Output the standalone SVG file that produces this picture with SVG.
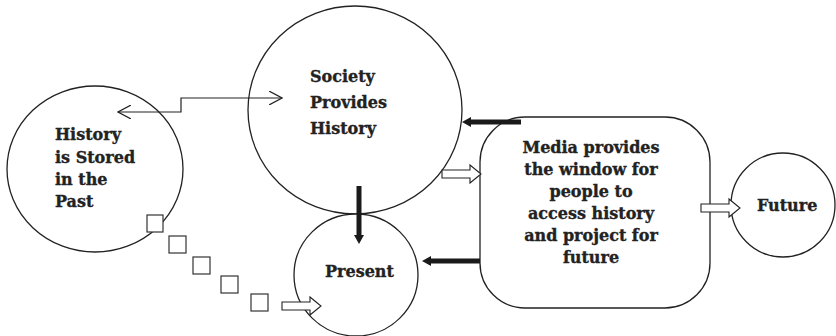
<svg xmlns="http://www.w3.org/2000/svg" width="836" height="336" viewBox="0 0 836 336">
<style>
.n{fill:#fff;stroke:#222;stroke-width:1.3}
.t{font-family:"DejaVu Serif",serif;font-weight:bold;font-size:16px;fill:#222;stroke:#222;stroke-width:0.35}
.thin{fill:none;stroke:#222;stroke-width:1.2}
.thick{stroke:#1a1a1a;stroke-width:5;fill:none}
.blk{fill:#fff;stroke:#222;stroke-width:1.1}
.sq{fill:#fff;stroke:#333;stroke-width:1.2}
</style>
<defs>
<marker id="chev" viewBox="0 0 14 14" refX="13" refY="7" markerWidth="14" markerHeight="14" markerUnits="userSpaceOnUse" orient="auto-start-reverse">
<path d="M0,0 L13,7 L0,14" fill="none" stroke="#222" stroke-width="1.2"/>
</marker>
<path id="block" d="M0,-4 H28 V-9 L39,0 L28,9 V4 H0 Z"/>
</defs>
<g id="society"><ellipse class="n" cx="355" cy="110" rx="107" ry="104"/>
<text class="t" x="310" y="82">Society</text><text class="t" x="310" y="108">Provides</text><text class="t" x="310" y="134">History</text></g>
<g id="history"><ellipse class="n" cx="95" cy="169" rx="88" ry="83"/>
<text class="t" x="55" y="140">History</text><text class="t" x="55" y="163">is Stored</text><text class="t" x="55" y="185">in the</text><text class="t" x="55" y="207">Past</text></g>
<g id="present"><ellipse class="n" cx="356" cy="275" rx="62" ry="61"/>
<text class="t" x="325" y="277">Present</text></g>
<g id="media"><rect class="n" x="480" y="117" width="230" height="191" rx="45" ry="45"/>
<text class="t" text-anchor="middle" x="591"><tspan x="591" y="153">Media provides</tspan><tspan x="591" y="175">the window for</tspan><tspan x="591" y="197">people to</tspan><tspan x="591" y="219">access history</tspan><tspan x="591" y="241">and project for</tspan><tspan x="591" y="263">future</tspan></text></g>
<g id="future"><ellipse class="n" cx="783" cy="205" rx="52" ry="52"/>
<text class="t" x="757" y="211">Future</text></g>
<g id="connectors">
<path class="thin" d="M118,112 H181 V98 H282" marker-start="url(#chev)" marker-end="url(#chev)"/>
<path class="thick" d="M359,186 V235"/>
<path d="M354,235 H364 L359,244 Z" fill="#1a1a1a"/>
<path class="thick" d="M521,122 H471"/>
<path d="M471,117 V127 L462,122 Z" fill="#1a1a1a"/>
<path class="thick" d="M480,261 H431"/>
<path d="M431,256 V266 L422,261 Z" fill="#1a1a1a"/>
<use href="#block" class="blk" transform="translate(442,174)"/>
<use href="#block" class="blk" transform="translate(701,208)"/>
<use href="#block" class="blk" transform="translate(282,306)"/>
<rect class="sq" x="147" y="215" width="16" height="17"/>
<rect class="sq" x="169" y="236" width="17" height="17"/>
<rect class="sq" x="193" y="257" width="17" height="17"/>
<rect class="sq" x="221" y="276" width="17" height="17"/>
<rect class="sq" x="251" y="294" width="17" height="17"/>
</g>
</svg>
